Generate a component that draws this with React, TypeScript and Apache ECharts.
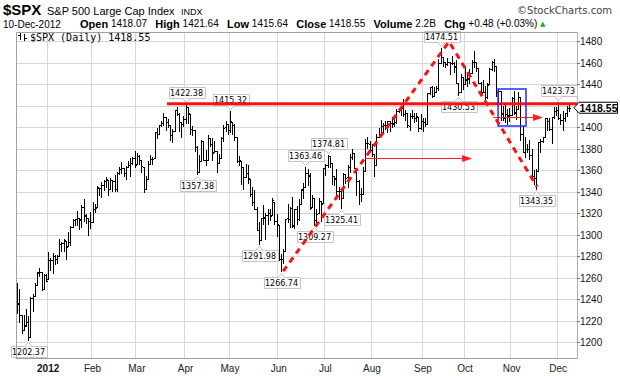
import { useEffect, useRef } from 'react';
import * as echarts from 'echarts';

const dates = [
  '2011-12-12','2011-12-13','2011-12-14','2011-12-15','2011-12-16','2011-12-19','2011-12-20','2011-12-21','2011-12-22','2011-12-23','2011-12-27','2011-12-28','2011-12-29','2011-12-30',
  '2012-01-03','2012-01-04','2012-01-05','2012-01-06','2012-01-09','2012-01-10','2012-01-11','2012-01-12','2012-01-13','2012-01-17','2012-01-18','2012-01-19','2012-01-20','2012-01-23','2012-01-24','2012-01-25','2012-01-26','2012-01-27','2012-01-30','2012-01-31',
  '2012-02-01','2012-02-02','2012-02-03','2012-02-06','2012-02-07','2012-02-08','2012-02-09','2012-02-10','2012-02-13','2012-02-14','2012-02-15','2012-02-16','2012-02-17','2012-02-21','2012-02-22','2012-02-23','2012-02-24','2012-02-27','2012-02-28','2012-02-29',
  '2012-03-01','2012-03-02','2012-03-05','2012-03-06','2012-03-07','2012-03-08','2012-03-09','2012-03-12','2012-03-13','2012-03-14','2012-03-15','2012-03-16','2012-03-19','2012-03-20','2012-03-21','2012-03-22','2012-03-23','2012-03-26','2012-03-27','2012-03-28','2012-03-29','2012-03-30',
  '2012-04-02','2012-04-03','2012-04-04','2012-04-05','2012-04-09','2012-04-10','2012-04-11','2012-04-12','2012-04-13','2012-04-16','2012-04-17','2012-04-18','2012-04-19','2012-04-20','2012-04-23','2012-04-24','2012-04-25','2012-04-26','2012-04-27','2012-04-30',
  '2012-05-01','2012-05-02','2012-05-03','2012-05-04','2012-05-07','2012-05-08','2012-05-09','2012-05-10','2012-05-11','2012-05-14','2012-05-15','2012-05-16','2012-05-17','2012-05-18','2012-05-21','2012-05-22','2012-05-23','2012-05-24','2012-05-25','2012-05-29','2012-05-30','2012-05-31',
  '2012-06-01','2012-06-04','2012-06-05','2012-06-06','2012-06-07','2012-06-08','2012-06-11','2012-06-12','2012-06-13','2012-06-14','2012-06-15','2012-06-18','2012-06-19','2012-06-20','2012-06-21','2012-06-22','2012-06-25','2012-06-26','2012-06-27','2012-06-28','2012-06-29',
  '2012-07-02','2012-07-03','2012-07-05','2012-07-06','2012-07-09','2012-07-10','2012-07-11','2012-07-12','2012-07-13','2012-07-16','2012-07-17','2012-07-18','2012-07-19','2012-07-20','2012-07-23','2012-07-24','2012-07-25','2012-07-26','2012-07-27','2012-07-30','2012-07-31',
  '2012-08-01','2012-08-02','2012-08-03','2012-08-06','2012-08-07','2012-08-08','2012-08-09','2012-08-10','2012-08-13','2012-08-14','2012-08-15','2012-08-16','2012-08-17','2012-08-20','2012-08-21','2012-08-22','2012-08-23','2012-08-24','2012-08-27','2012-08-28','2012-08-29','2012-08-30','2012-08-31',
  '2012-09-04','2012-09-05','2012-09-06','2012-09-07','2012-09-10','2012-09-11','2012-09-12','2012-09-13','2012-09-14','2012-09-17','2012-09-18','2012-09-19','2012-09-20','2012-09-21','2012-09-24','2012-09-25','2012-09-26','2012-09-27','2012-09-28',
  '2012-10-01','2012-10-02','2012-10-03','2012-10-04','2012-10-05','2012-10-08','2012-10-09','2012-10-10','2012-10-11','2012-10-12','2012-10-15','2012-10-16','2012-10-17','2012-10-18','2012-10-19','2012-10-22','2012-10-23','2012-10-24','2012-10-25','2012-10-26','2012-10-31',
  '2012-11-01','2012-11-02','2012-11-05','2012-11-06','2012-11-07','2012-11-08','2012-11-09','2012-11-12','2012-11-13','2012-11-14','2012-11-15','2012-11-16','2012-11-19','2012-11-20','2012-11-21','2012-11-23','2012-11-26','2012-11-27','2012-11-28','2012-11-29','2012-11-30',
  '2012-12-03','2012-12-04','2012-12-05','2012-12-06','2012-12-07','2012-12-10'
];
const paddingDates = ['2012-12-11', '2012-12-12', '2012-12-13'];

const opens = [
  1255.05,1236.83,1225.73,1212.12,1216.09,1219.74,1205.72,1241.25,1243.72,1254.00,1265.02,1265.38,1249.75,1262.82,
  1258.86,1277.03,1277.30,1280.93,1277.83,1280.77,1292.02,1292.48,1294.82,1290.22,1293.65,1308.07,1314.49,1315.29,1315.96,1314.40,1326.28,1318.25,1316.16,1313.53,
  1312.45,1324.24,1326.21,1344.32,1344.33,1347.04,1349.97,1351.21,1343.06,1351.30,1350.52,1342.61,1358.06,1361.22,1362.11,1357.53,1363.46,1365.20,1367.56,1372.20,
  1365.90,1374.09,1369.59,1363.63,1343.39,1352.65,1365.97,1370.78,1371.92,1395.95,1394.17,1402.55,1404.17,1409.59,1405.52,1402.89,1392.78,1397.11,1416.55,1412.52,1405.39,1403.31,
  1408.47,1418.98,1413.09,1398.79,1397.45,1382.18,1358.98,1368.77,1387.61,1370.27,1369.57,1390.78,1385.08,1376.96,1378.53,1366.97,1372.11,1390.64,1400.19,1403.26,
  1397.86,1405.50,1402.32,1391.51,1368.79,1369.16,1363.20,1354.58,1358.11,1351.93,1338.36,1330.78,1324.82,1305.05,1295.73,1316.09,1316.02,1318.72,1320.81,1318.90,1331.25,1313.09,
  1309.87,1278.29,1277.82,1285.61,1316.15,1314.99,1325.72,1309.40,1324.02,1314.88,1329.19,1342.42,1344.83,1357.98,1355.43,1325.92,1334.90,1314.09,1320.71,1331.52,1330.12,
  1362.33,1365.75,1373.72,1367.09,1354.66,1352.96,1341.40,1341.29,1334.81,1356.50,1353.68,1363.58,1373.01,1376.51,1362.34,1350.52,1338.35,1338.17,1360.05,1385.94,1385.27,
  1379.32,1375.13,1365.45,1391.04,1394.46,1401.23,1402.26,1402.58,1405.87,1404.36,1403.89,1405.57,1415.84,1417.85,1418.13,1413.09,1413.49,1401.99,1411.13,1410.44,1409.32,1410.08,1400.07,
  1406.54,1404.94,1403.74,1432.12,1437.92,1429.13,1433.56,1436.56,1460.07,1465.42,1461.19,1459.50,1461.05,1460.34,1459.76,1456.94,1441.60,1433.36,1447.13,
  1440.90,1444.99,1446.05,1451.08,1461.40,1460.93,1455.90,1441.48,1432.82,1432.84,1428.75,1440.31,1454.22,1460.94,1457.34,1433.21,1433.74,1413.20,1409.74,1412.97,1410.99,
  1412.20,1427.59,1414.02,1417.26,1428.27,1394.53,1377.55,1379.86,1380.03,1374.64,1355.41,1353.36,1359.88,1386.82,1387.79,1391.03,1409.15,1406.29,1398.77,1409.96,1415.95,
  1416.34,1409.46,1407.05,1409.43,1413.95,1418.07
];
const highs = [
  1255.10,1249.86,1225.73,1225.60,1231.04,1224.57,1242.82,1245.09,1255.22,1265.42,1269.37,1265.85,1263.54,1264.12,
  1284.62,1278.73,1283.05,1281.84,1281.99,1296.46,1293.80,1296.82,1294.82,1303.00,1308.11,1315.49,1315.38,1322.28,1315.96,1328.30,1333.47,1320.06,1316.16,1321.41,
  1330.52,1329.19,1345.34,1344.36,1349.24,1351.00,1354.32,1351.21,1353.35,1351.30,1355.87,1359.02,1363.40,1367.76,1362.70,1364.24,1368.92,1371.94,1373.09,1378.04,
  1376.17,1374.53,1369.59,1363.63,1354.85,1368.72,1374.76,1373.04,1396.13,1399.42,1402.63,1405.88,1414.00,1409.59,1407.75,1402.89,1399.18,1416.58,1419.15,1413.65,1405.39,1410.89,
  1422.38,1419.00,1413.09,1401.60,1397.45,1383.01,1374.71,1388.13,1387.61,1379.66,1392.76,1390.78,1390.46,1387.40,1378.53,1375.57,1391.37,1402.09,1406.64,1403.26,
  1415.32,1405.50,1403.07,1391.51,1373.91,1369.16,1363.73,1365.88,1365.66,1351.93,1344.94,1341.78,1326.36,1312.24,1316.39,1328.49,1320.71,1324.14,1324.20,1334.93,1331.25,1319.74,
  1309.87,1282.55,1287.62,1315.13,1329.05,1325.81,1335.52,1324.31,1327.28,1333.68,1343.32,1348.22,1363.46,1361.57,1358.27,1337.82,1334.90,1324.24,1334.40,1331.52,1362.17,
  1366.35,1374.81,1373.85,1367.09,1354.87,1361.54,1345.00,1341.29,1357.70,1357.26,1365.36,1375.26,1380.39,1376.51,1362.34,1351.53,1343.98,1363.13,1389.19,1391.74,1387.16,
  1385.03,1375.13,1394.16,1399.63,1407.14,1404.14,1405.95,1405.98,1405.87,1410.03,1407.73,1417.44,1418.71,1418.13,1426.68,1416.12,1413.49,1413.46,1416.17,1413.63,1413.95,1410.08,1413.09,
  1409.31,1408.81,1432.12,1437.92,1438.74,1437.76,1439.15,1463.76,1474.51,1465.63,1461.47,1465.15,1461.23,1467.07,1460.72,1463.24,1441.60,1450.20,1447.13,
  1457.14,1451.52,1454.30,1463.14,1470.96,1460.93,1455.90,1442.52,1443.90,1438.43,1441.31,1455.51,1462.20,1464.02,1457.34,1435.46,1433.74,1420.04,1421.12,1417.09,1418.76,
  1428.35,1434.27,1419.90,1433.38,1428.27,1401.23,1391.39,1384.87,1388.81,1380.13,1360.62,1362.03,1386.89,1389.77,1391.25,1409.16,1409.15,1409.01,1410.31,1419.70,1418.86,
  1423.73,1413.14,1415.56,1413.95,1420.34,1421.64
];
const lows = [
  1227.25,1219.43,1209.47,1212.12,1215.20,1202.37,1205.72,1229.51,1243.72,1254.00,1262.30,1248.64,1249.75,1257.46,
  1258.86,1268.10,1265.26,1273.34,1274.55,1280.77,1285.41,1285.77,1277.58,1290.22,1290.99,1308.07,1309.17,1309.89,1306.06,1307.65,1313.60,1311.72,1300.49,1306.69,
  1312.45,1321.57,1326.21,1337.52,1335.92,1341.95,1344.63,1337.35,1343.06,1340.83,1340.80,1341.22,1357.24,1358.11,1355.53,1352.28,1363.46,1354.92,1365.97,1363.81,
  1365.90,1366.42,1359.13,1340.03,1343.39,1352.65,1365.97,1366.69,1371.92,1389.97,1394.17,1401.47,1402.43,1397.68,1400.64,1388.73,1386.87,1397.11,1411.95,1397.20,1391.56,1401.42,
  1404.46,1404.62,1394.09,1392.92,1378.24,1357.38,1358.98,1368.77,1369.85,1365.38,1369.57,1383.29,1370.30,1376.96,1358.79,1366.82,1372.11,1387.28,1397.31,1394.00,
  1395.73,1393.92,1388.71,1367.96,1365.01,1347.75,1343.13,1354.58,1348.89,1336.61,1328.41,1324.79,1304.86,1291.98,1295.73,1310.04,1296.53,1310.50,1314.23,1318.90,1310.76,1298.90,
  1277.25,1266.74,1274.16,1285.61,1312.68,1307.77,1307.73,1306.62,1310.51,1314.14,1329.19,1334.46,1344.83,1346.45,1324.41,1325.92,1309.27,1310.30,1320.71,1313.29,1330.12,
  1355.70,1363.53,1363.02,1348.03,1346.65,1336.27,1333.25,1325.41,1334.81,1348.51,1345.07,1358.96,1371.21,1362.19,1337.56,1329.24,1331.50,1338.17,1360.05,1381.37,1379.17,
  1373.35,1354.65,1365.45,1391.04,1394.46,1396.13,1398.80,1395.62,1397.32,1400.60,1401.83,1404.15,1414.67,1412.12,1410.86,1406.78,1400.50,1398.04,1409.11,1405.59,1406.57,1397.01,1398.96,
  1396.56,1401.25,1403.74,1431.45,1428.98,1429.13,1432.99,1435.34,1460.07,1457.55,1456.13,1457.88,1449.98,1459.51,1452.06,1441.59,1430.53,1433.36,1435.60,
  1440.90,1439.01,1441.99,1451.08,1456.89,1453.10,1441.18,1430.64,1432.82,1425.53,1427.24,1440.31,1453.35,1452.63,1429.85,1422.06,1407.56,1407.10,1405.14,1403.28,1405.95,
  1412.20,1412.91,1408.13,1417.26,1388.14,1377.51,1373.03,1377.19,1370.78,1352.50,1348.05,1343.35,1359.88,1377.04,1386.39,1391.03,1397.68,1398.03,1385.43,1409.04,1411.63,
  1408.46,1403.65,1398.23,1405.93,1410.90,1415.64
];
const closes = [
  1236.47,1225.73,1211.82,1215.75,1219.66,1205.35,1241.30,1243.72,1254.00,1265.33,1265.43,1249.64,1263.02,1257.60,
  1277.06,1277.30,1281.06,1277.81,1280.70,1292.08,1292.48,1295.50,1289.09,1293.67,1308.04,1314.50,1315.38,1316.00,1314.65,1326.06,1318.43,1316.33,1313.01,1312.41,
  1324.09,1325.54,1344.90,1344.33,1347.05,1349.96,1351.95,1342.64,1351.77,1350.50,1343.23,1358.04,1361.23,1362.21,1357.66,1363.46,1365.74,1367.59,1372.18,1365.68,
  1374.09,1369.63,1364.33,1343.36,1352.63,1365.91,1370.87,1371.09,1395.95,1394.28,1402.60,1404.17,1409.75,1405.52,1402.89,1392.78,1397.11,1416.51,1412.52,1405.54,1403.28,1408.47,
  1419.04,1413.38,1398.96,1398.08,1382.20,1358.59,1368.71,1387.57,1370.26,1369.57,1390.78,1385.14,1376.92,1378.53,1366.94,1371.97,1390.69,1399.98,1403.36,1397.91,
  1405.82,1402.31,1391.57,1369.10,1369.58,1363.72,1354.58,1357.99,1353.39,1338.35,1330.66,1324.80,1304.86,1295.22,1315.99,1316.63,1318.86,1320.68,1317.82,1332.42,1313.32,1310.33,
  1278.04,1278.18,1285.50,1315.13,1314.99,1325.66,1308.93,1324.18,1314.88,1329.10,1342.84,1344.78,1357.98,1355.69,1325.51,1335.02,1313.72,1319.99,1331.85,1329.04,1362.16,
  1365.51,1374.02,1367.58,1354.68,1352.46,1341.47,1341.45,1334.76,1356.78,1353.64,1363.67,1372.78,1376.51,1362.66,1350.52,1338.31,1337.89,1360.02,1385.97,1385.30,1379.32,
  1375.32,1365.00,1390.99,1394.23,1401.35,1402.22,1402.80,1405.87,1404.11,1403.93,1405.53,1415.51,1418.16,1418.13,1413.17,1413.49,1402.08,1411.13,1410.44,1409.30,1410.49,1399.48,1406.58,
  1404.94,1403.44,1432.12,1437.92,1429.08,1433.56,1436.56,1459.99,1465.77,1461.19,1459.32,1461.05,1460.26,1460.15,1456.89,1441.59,1433.32,1447.15,1440.67,
  1444.49,1445.75,1450.99,1461.40,1460.93,1455.88,1441.48,1432.56,1432.84,1428.59,1440.13,1454.92,1460.91,1457.34,1433.19,1433.82,1413.11,1408.75,1412.97,1411.94,1412.16,
  1427.59,1414.20,1417.26,1428.39,1394.53,1377.51,1379.85,1380.03,1374.53,1355.49,1353.33,1359.88,1386.89,1387.81,1391.03,1409.15,1406.29,1398.94,1409.93,1415.95,1416.18,
  1409.46,1407.05,1409.28,1413.94,1418.07,1418.55
];

const monthStartDates = ['2012-01-03','2012-02-01','2012-03-01','2012-04-02','2012-05-01','2012-06-01','2012-07-02','2012-08-01','2012-09-04','2012-10-01','2012-11-01','2012-12-03'];
const monthLabels = ['2012','Feb','Mar','Apr','May','Jun','Jul','Aug','Sep','Oct','Nov','Dec'];
const yTicks = [1200,1220,1240,1260,1280,1300,1320,1340,1360,1380,1400,1420,1440,1460,1480];

// price callouts (date, value, side: 1 above the bar, -1 below)
const calloutDates = ['2011-12-19','2012-04-02','2012-04-10','2012-05-01','2012-05-18','2012-06-04','2012-06-19','2012-06-25','2012-07-03','2012-07-12','2012-09-14','2012-09-26','2012-11-16','2012-12-03'];
const calloutValues = [1202.37,1422.38,1357.38,1415.32,1291.98,1266.74,1363.46,1309.27,1374.81,1325.41,1474.51,1430.53,1343.35,1423.73];
const calloutSides = [-1,1,-1,1,-1,-1,1,-1,1,-1,1,-1,-1,1];

// user-drawn annotations, in (bar index, price) space
const resistanceLevel = 1422.38;
const resistanceSpan = [67.6, 252.5];
const trendPath = [[120.0, 1266.5], [194.8, 1480], [234.5, 1345]];
const arrowLines = [[[156.9, 1372], [205.2, 1372]], [[214.7, 1410], [237.2, 1410]]];
const boxCorners = [[216.9, 1436], [229.5, 1401.6]];

const volumeText = '2.2B';

const SANS = 'Liberation Sans, Arial, sans-serif';

export default function App() {
  const ref = useRef<HTMLDivElement>(null);
  useEffect(() => {
    if (!ref.current) return;
    const chart = echarts.init(ref.current, undefined, { renderer: 'svg' });
    const n = closes.length;
    const last = n - 1;
    const chg = closes[last] - closes[last - 1];
    const pct = (chg / closes[last - 1]) * 100;
    const sgn = (v: number) => (v >= 0 ? '+' : '') + v.toFixed(2);
    const ohlcData = dates.map((d, i) => [i, opens[i], highs[i], lows[i], closes[i]]);
    const calloutData = calloutDates.map((d, k) => [dates.indexOf(d), calloutValues[k], calloutSides[k]]);

    const line2 =
      `{b|Open} ${opens[last].toFixed(2)}   {b|High} ${highs[last].toFixed(2)}   {b|Low} ${lows[last].toFixed(2)}   ` +
      `{b|Close} ${closes[last].toFixed(2)}   {b|Volume} ${volumeText}   {b|Chg} ${sgn(chg)} (${sgn(pct)}%) {g|▲}`;

    chart.setOption({
      animation: false,
      backgroundColor: '#ffffff',
      grid: { left: 16, right: 43, top: 32, bottom: 18, containLabel: false, outerBoundsMode: 'none' },
      xAxis: {
        type: 'category',
        data: [...dates, ...paddingDates],
        boundaryGap: true,
        axisLine: { show: true, lineStyle: { color: '#a0a0a0', width: 1 } },
        axisTick: { show: false },
        axisLabel: {
          interval: (i: number, v: string) => monthStartDates.includes(v),
          formatter: (v: string) => {
            const k = monthStartDates.indexOf(v);
            if (k < 0) return '';
            return k === 0 ? `{b|${monthLabels[k]}}` : monthLabels[k];
          },
          color: '#222',
          fontFamily: SANS,
          fontSize: 10,
          margin: 5,
          rich: { b: { fontWeight: 'bold', fontSize: 10, fontFamily: SANS, color: '#111' } },
        },
        splitLine: {
          show: true,
          interval: (i: number, v: string) => monthStartDates.includes(v),
          lineStyle: { color: '#d6d6d6', width: 1 },
        },
      },
      yAxis: {
        type: 'value',
        position: 'right',
        min: 1185.8,
        max: 1489,
        axisLine: { show: true, lineStyle: { color: '#a8a8a8', type: 'dotted', width: 1 } },
        axisTick: { show: true, customValues: yTicks, length: 3, lineStyle: { color: '#777' } },
        axisLabel: {
          customValues: yTicks,
          formatter: (v: number) => (Math.abs(v - closes[closes.length - 1]) < 8 ? '' : String(v)),
          color: '#111',
          fontFamily: SANS,
          fontSize: 10,
          margin: 3,
        },
        splitLine: { show: true, lineStyle: { color: '#d6d6d6', width: 1 } },
      },
      series: [
        {
          type: 'custom',
          name: '$SPX',
          data: ohlcData,
          encode: { x: 0, y: [1, 2, 3, 4] },
          z: 2,
          silent: true,
          renderItem: (params: any, api: any) => {
            const i = api.value(0);
            const pO = api.coord([i, api.value(1)]);
            const pH = api.coord([i, api.value(2)]);
            const pL = api.coord([i, api.value(3)]);
            const pC = api.coord([i, api.value(4)]);
            const x = Math.round(pH[0]) + 0.5;
            const yo = Math.round(pO[1]) + 0.5;
            const yc = Math.round(pC[1]) + 0.5;
            const st = { stroke: '#000', lineWidth: 1 };
            return {
              type: 'group',
              children: [
                { type: 'line', shape: { x1: x, y1: Math.round(pH[1]), x2: x, y2: Math.round(pL[1]) + 1 }, style: st },
                { type: 'line', shape: { x1: x - 1.5, y1: yo, x2: x - 0.5, y2: yo }, style: st },
                { type: 'line', shape: { x1: x + 0.5, y1: yc, x2: x + 1.5, y2: yc }, style: st },
              ],
            };
          },
        },
        {
          type: 'custom',
          name: 'callouts',
          data: calloutData,
          encode: { x: 0, y: 1 },
          z: 3,
          silent: true,
          clip: false,
          renderItem: (params: any, api: any) => {
            const i = api.value(0);
            const v = api.value(1);
            const dir = api.value(2);
            const p = api.coord([i, v]);
            const x = Math.round(p[0]) + 0.5;
            const w = 36;
            const h = 11;
            let top: number;
            let tri: number[][];
            if (dir > 0) {
              const bottom = Math.round(p[1] - 6) + 0.5;
              top = bottom - h;
              tri = [[x - 4, bottom], [x, bottom + 4], [x + 4, bottom]];
            } else {
              top = Math.round(p[1] + 6) + 0.5;
              tri = [[x - 4, top], [x, top - 4], [x + 4, top]];
            }
            const left = Math.round(x - w / 2) + 0.5;
            return {
              type: 'group',
              children: [
                { type: 'rect', shape: { x: left, y: top, width: w, height: h }, style: { fill: '#fff', stroke: '#c4c4c4', lineWidth: 1 } },
                { type: 'polyline', shape: { points: tri }, style: { fill: '#fff', stroke: '#c4c4c4', lineWidth: 1 } },
                {
                  type: 'text',
                  style: {
                    text: v.toFixed(2), x: x, y: top + h / 2 + 0.5,
                    align: 'center', verticalAlign: 'middle', textAlign: 'center', textVerticalAlign: 'middle',
                    font: '8px DejaVu Sans', fill: '#000',
                  },
                },
              ],
            };
          },
        },
        {
          type: 'custom',
          name: 'annotations',
          data: [[0, 1300]],
          encode: { x: 0, y: 1 },
          z: 4,
          silent: true,
          clip: false,
          renderItem: (params: any, api: any) => {
            const c0 = api.coord([0, 1300])[0];
            const band = api.size([1, 0])[0];
            const X = (f: number) => c0 + f * band;
            const Y = (v: number) => api.coord([0, v])[1];
            const children: any[] = [];
            children.push({
              type: 'line',
              shape: { x1: X(resistanceSpan[0]), y1: Y(resistanceLevel), x2: X(resistanceSpan[1]), y2: Y(resistanceLevel) },
              style: { stroke: '#ff1010', lineWidth: 3 },
            });
            arrowLines.forEach((a) => {
              const x1 = X(a[0][0]);
              const x2 = X(a[1][0]);
              const y = Math.round(Y(a[0][1])) + 0.5;
              children.push({ type: 'line', shape: { x1, y1: y, x2: x2 - 6, y2: y }, style: { stroke: '#ff2020', lineWidth: 1 } });
              children.push({ type: 'polygon', shape: { points: [[x2, y], [x2 - 10, y - 3.5], [x2 - 10, y + 3.5]] }, style: { fill: '#ff2020' } });
            });
            const bx1 = X(boxCorners[0][0]);
            const bx2 = X(boxCorners[1][0]);
            const by1 = Y(boxCorners[0][1]);
            const by2 = Y(boxCorners[1][1]);
            children.push({
              type: 'rect',
              shape: { x: bx1, y: by1, width: bx2 - bx1, height: by2 - by1 },
              style: { fill: 'none', stroke: '#2a2aff', lineWidth: 1.5 },
            });
            children.push({
              type: 'polyline',
              shape: { points: trendPath.map((p) => [X(p[0]), Y(p[1])]) },
              style: { fill: 'none', stroke: '#ff1010', lineWidth: 3, lineDash: [6, 5] },
            });
            // last price tag on the right axis
            const yT = Y(closes[last]);
            const xE = X(252.5);
            children.push({
              type: 'polygon',
              shape: { points: [[xE - 3, yT], [xE + 2, yT - 5.5], [617.5, yT - 5.5], [617.5, yT + 5.5], [xE + 2, yT + 5.5]] },
              style: { fill: '#fff', stroke: '#000', lineWidth: 1 },
            });
            children.push({
              type: 'text',
              style: {
                text: closes[last].toFixed(2), x: 598.5, y: yT + 0.5,
                align: 'center', verticalAlign: 'middle', textAlign: 'center', textVerticalAlign: 'middle',
                font: 'bold 10.5px Liberation Sans', fill: '#000',
              },
            });
            return { type: 'group', children };
          },
        },
      ],
      graphic: [
        { type: 'line', z: 10, shape: { x1: 16.5, y1: 32.5, x2: 577, y2: 32.5 }, style: { stroke: '#a0a0a0', lineWidth: 1 } },
        { type: 'line', z: 10, shape: { x1: 16.5, y1: 32.5, x2: 16.5, y2: 358.5 }, style: { stroke: '#a0a0a0', lineWidth: 1 } },
        {
          type: 'text', left: 3, top: 2,
          style: { text: '$SPX', font: 'bold 15px Liberation Sans', fill: '#000' },
        },
        {
          type: 'text', left: 47, top: 5,
          style: { text: 'S&P 500 Large Cap Index', font: '11px Liberation Sans', fill: '#000' },
        },
        {
          type: 'text', left: 181, top: 7,
          style: { text: 'INDX', font: '9px Liberation Sans', fill: '#000' },
        },
        {
          type: 'text', right: 8, top: 5,
          style: { text: '©StockCharts.com', font: '10px DejaVu Sans', fill: '#444' },
        },
        {
          type: 'text', left: 3, top: 19,
          style: { text: '10-Dec-2012', font: '10px Liberation Sans', fill: '#000' },
        },
        {
          type: 'text', left: 80, top: 18,
          style: {
            text: line2,
            font: '10px Liberation Sans',
            fill: '#000',
            rich: {
              b: { font: 'bold 11px Liberation Sans', fill: '#000' },
              g: { font: '7px DejaVu Sans', fill: '#22aa22' },
            },
          },
        },
        // legend icon
        { type: 'line', z: 10, shape: { x1: 20.5, y1: 33, x2: 20.5, y2: 40 }, style: { stroke: '#000', lineWidth: 1 } },
        { type: 'line', z: 10, shape: { x1: 18, y1: 35.5, x2: 20.5, y2: 35.5 }, style: { stroke: '#000', lineWidth: 1 } },
        { type: 'line', z: 10, shape: { x1: 24.5, y1: 34, x2: 24.5, y2: 41 }, style: { stroke: '#000', lineWidth: 1 } },
        { type: 'line', z: 10, shape: { x1: 24.5, y1: 38.5, x2: 27, y2: 38.5 }, style: { stroke: '#000', lineWidth: 1 } },
        {
          type: 'text', left: 30, top: 32, z: 10,
          style: { text: `$SPX (Daily) ${closes[last].toFixed(2)}`, font: '10px DejaVu Sans Mono', fill: '#000' },
        },
      ],
    });
    return () => chart.dispose();
  }, []);
  return <div ref={ref} style={{ position: 'fixed', left: 0, top: 0, width: 620, height: 376, background: '#fff' }} />;
}
